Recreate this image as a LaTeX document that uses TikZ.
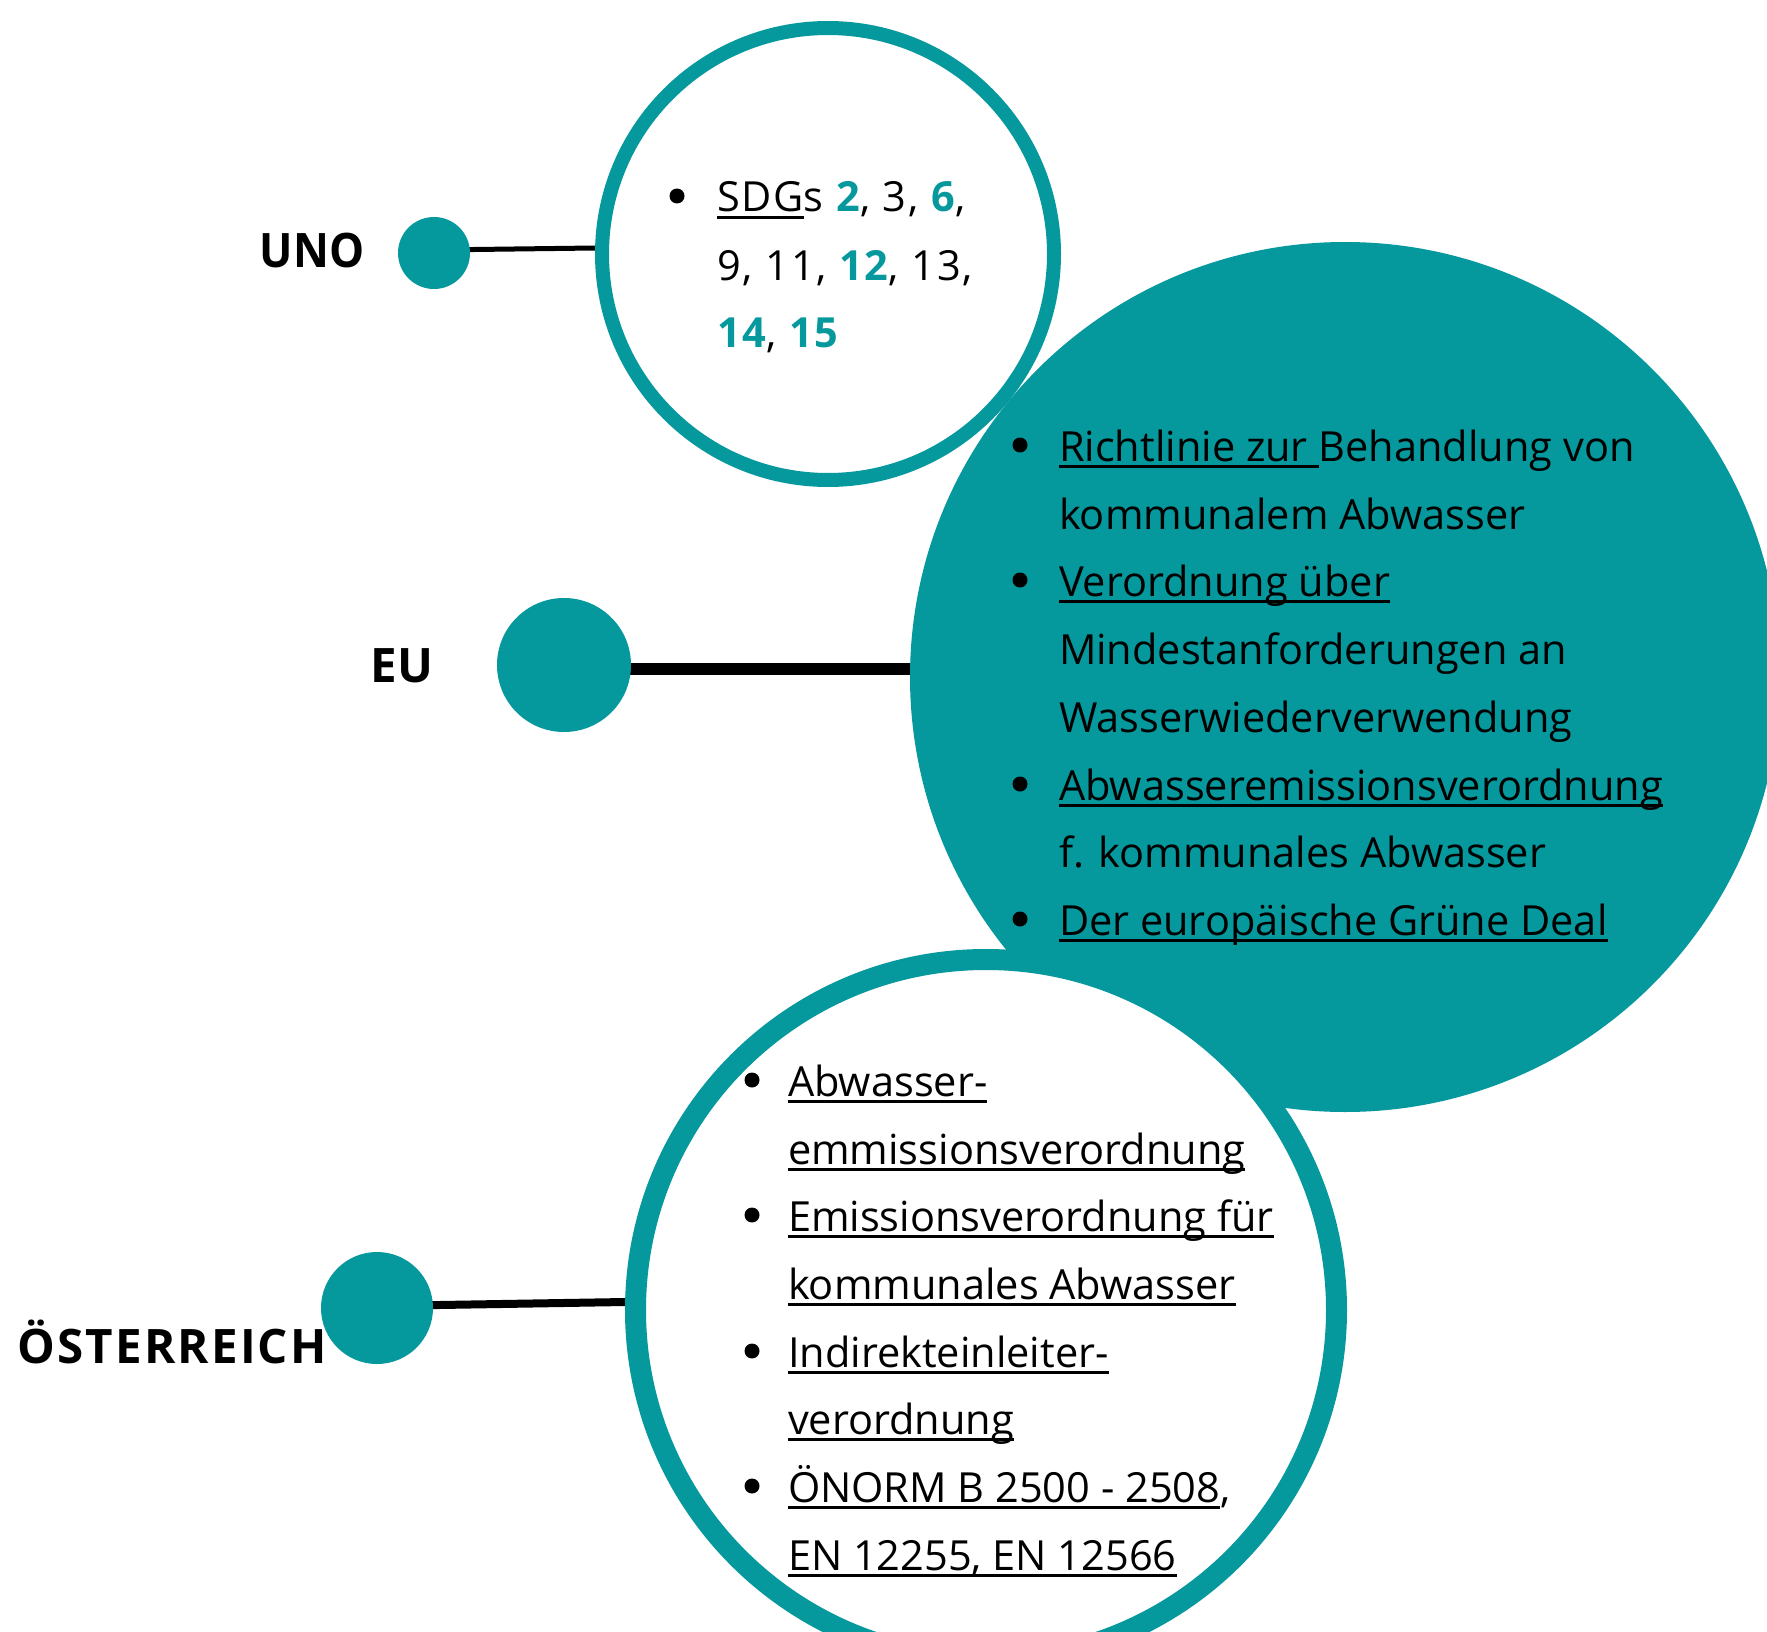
\documentclass[tikz,border=0pt]{standalone}
\usepackage{fontspec}
\setmainfont{Open Sans}
\usetikzlibrary{backgrounds}
\definecolor{mteal}{RGB}{5,152,157}
\newcommand\myul[1]{\setbox0=\hbox{#1}\rlap{\rule[-7pt]{\wd0}{3pt}}\box0}
\newcommand\tnum[1]{\textcolor{mteal}{\bfseries #1}}
\newcommand\bodyfont{\fontsize{41.5pt}{67.7pt}\selectfont}
\newcommand\sdgfont{\fontsize{41.5pt}{67.7pt}\selectfont\addfontfeatures{LetterSpace=4.5}}
\newcommand\labfont{\fontsize{47.5pt}{50pt}\selectfont\bfseries}
\newcommand\lsp[1]{#1\kern2.2pt}
\begin{document}
\begin{tikzpicture}[x=1pt,y=1pt,
  body/.style={anchor=base west, inner sep=0pt, outer sep=0pt, font=\bodyfont},
  sdg/.style={anchor=base west, inner sep=0pt, outer sep=0pt, font=\sdgfont},
  bul/.style={circle, fill=black, inner sep=0pt, minimum size=15pt},
  hubdot/.style={circle, fill=mteal, inner sep=0pt},
  ring/.style={circle, draw=mteal, fill=white, inner sep=0pt},
  lab/.style={anchor=base, inner sep=0pt, font=\labfont},
  conn/.style={draw=black}]
\useasboundingbox (0,0) rectangle (1767,-1632);
\clip (0,0) rectangle (1767,-1632);

% UNO
\node[ring, line width=14pt, minimum size=452pt] (unocirc) at (828,-254) {};
\node[hubdot, minimum size=72pt] (unodot) at (434,-253) {};
% EU
\node[circle, fill=mteal, inner sep=0pt, minimum size=870pt] (eucirc) at (1345,-677) {};
\node[hubdot, minimum size=134pt] (eudot) at (564,-665) {};
% Oesterreich
\node[ring, line width=21pt, minimum size=701pt] (ocirc) at (986,-1310) {};
\node[hubdot, minimum size=112pt] (odot) at (377,-1308) {};

\begin{scope}[on background layer]
\fill[white] (0,0) rectangle (1767,-1632);
\draw[conn, line width=5pt] ([yshift=3pt]unodot.center) -- ([yshift=6pt]unocirc.west);
\draw[conn, line width=12pt] ([yshift=-4pt]eudot.center) -- ([yshift=-4pt]eudot.center -| eucirc.center);
\draw[conn, line width=8pt] ([yshift=2pt]odot.center) -- ([yshift=8pt]ocirc.west);
\end{scope}

% labels
\node[lab] (unolab) at (312,-267) {\scalebox{0.93}[1]{UNO}};
\node[lab] (eulab) at (402,-682) {EU};
\node[lab] (olab) at (172,-1363) {\lsp{Ö}\lsp{S}\lsp{T}\lsp{E}\lsp{R}\lsp{R}\lsp{E}\lsp{I}\lsp{C}H};

% UNO list
\node[bul] (ub1) at (677,-196) {};
\node[sdg] (u1) at (717,-212) {\myul{SDG}s \tnum{2}, 3, \tnum{6},};
\node[sdg] (u2) at (717,-280) {9, 11, \tnum{12}, 13,};
\node[sdg] (u3) at (717,-347) {\tnum{14}, \tnum{15}};

% EU list
\node[bul] (eb1) at (1020,-445) {};
\node[body] (e1) at (1059,-461) {\myul{Richtlinie zur }Behandlung von};
\node[body] (e2) at (1059,-529) {kommunalem Abwasser};
\node[bul] (eb2) at (1020,-580) {};
\node[body] (e3) at (1059,-596) {\myul{Verordnung über}};
\node[body] (e4) at (1059,-664) {Mindestanforderungen an};
\node[body] (e5) at (1059,-732) {Wasserwiederverwendung};
\node[bul] (eb3) at (1020,-784) {};
\node[body] (e6) at (1059,-800) {\myul{Abwasseremissionsverordnung}};
\node[body] (e7) at (1059,-867) {f. kommunales Abwasser};
\node[bul] (eb4) at (1020,-919) {};
\node[body] (e8) at (1059,-935) {\myul{Der europäische Grüne Deal}};

% Oesterreich list
\node[bul] (ob1) at (752,-1080) {};
\node[body] (o1) at (788,-1096) {\myul{Abwasser-}};
\node[body] (o2) at (788,-1164) {\myul{emmissionsverordnung}};
\node[bul] (ob2) at (752,-1215) {};
\node[body] (o3) at (788,-1231) {\myul{Emissionsverordnung für}};
\node[body] (o4) at (788,-1299) {\myul{kommunales Abwasser}};
\node[bul] (ob3) at (752,-1351) {};
\node[body] (o5) at (788,-1367) {\myul{Indirekteinleiter-}};
\node[body] (o6) at (788,-1434) {\myul{verordnung}};
\node[bul] (ob4) at (752,-1486) {};
\node[body] (o7) at (788,-1502) {\myul{ÖNORM B 2500 - 2508},};
\node[body] (o8) at (788,-1570) {\myul{EN 12255, EN 12566}};
\end{tikzpicture}
\end{document}
